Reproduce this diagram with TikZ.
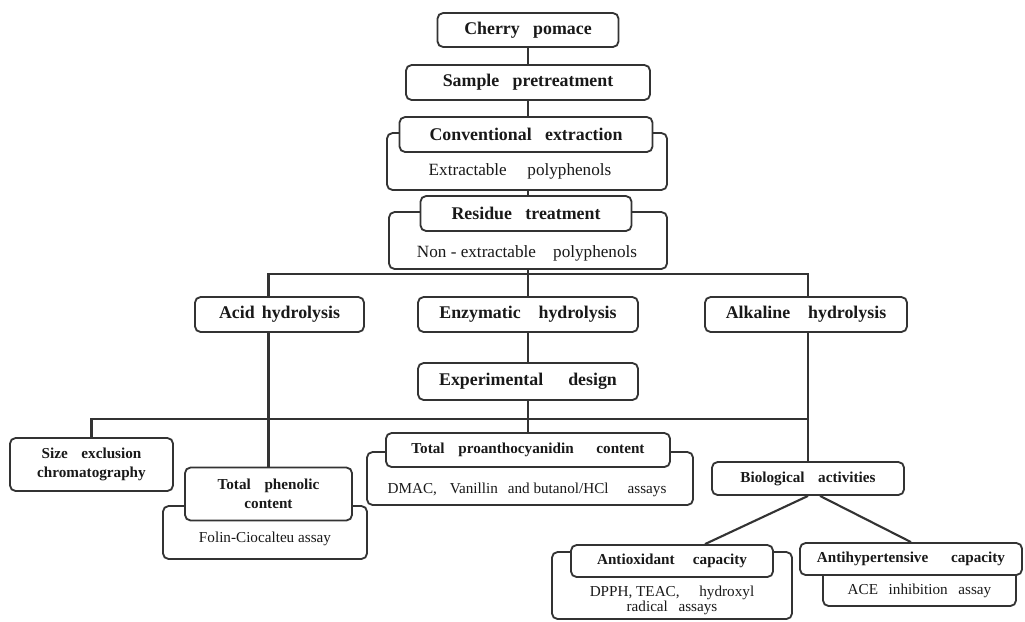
\documentclass[tikz,border=0pt]{standalone}
\usepackage{fontspec}
\setmainfont{Liberation Serif}
\usetikzlibrary{positioning,backgrounds}

\newcommand{\widespace}[1]{\spaceskip #1\relax}

\tikzset{
  box/.style={draw=black!80, line width=1.3pt, rounded corners=4pt, fill=white,
              align=center, inner sep=0pt, text=black!90},
  head/.style={box, font={\bfseries\fontsize{12.7}{14}\selectfont\widespace{0.75em}}},
  subhead/.style={box, font={\bfseries\fontsize{10.8}{13.8}\selectfont\widespace{0.9em}}},
  note/.style={align=center, inner sep=0pt, text=black!90, font=\fontsize{12.2}{14}\selectfont},
  subnote/.style={note, font=\fontsize{10.8}{10.8}\selectfont},
  wire/.style={draw=black!80, line width=1.5pt}
}

\begin{document}
\begin{tikzpicture}[x=0.025cm, y=-0.025cm]
\useasboundingbox (0,0) rectangle (1025,621);

% EXTRACTION
\node(pomace)[head, minimum width=4.525cm, minimum height=0.85cm] at (528,30) {Cherry pomace};
\node(pretreat)[head, minimum width=6.1cm, minimum height=0.875cm] at (528,82.5) {Sample pretreatment};

\node(convbox)[box, minimum width=7cm, minimum height=1.425cm] at (527,161.5) {};
\node(convnote)[note] at (520,171) {Extractable\hspace{1.2em}polyphenols};
\node(convtitle)[head, minimum width=6.325cm, minimum height=0.875cm] at (526,134.5) {Conventional extraction};

\node(resbox)[box, minimum width=6.95cm, minimum height=1.425cm] at (528,240.5) {};
\node(resnote)[note] at (527,253) {Non - extractable\hspace{1em}polyphenols};
\node(restitle)[head, minimum width=5.275cm, minimum height=0.875cm] at (526,213.5) {Residue treatment};

% HYDROLYSIS
\node(acid)[head, minimum width=4.225cm, minimum height=0.875cm] at (279.5,314.5) {Acid\hspace{0.4em}hydrolysis};
\node(enzym)[head, minimum width=5.5cm, minimum height=0.875cm] at (528,314.5) {Enzymatic\hspace{1em}hydrolysis};
\node(alkal)[head, minimum width=5.05cm, minimum height=0.875cm] at (806,314.5) {Alkaline\hspace{1em}hydrolysis};
\node(design)[head, minimum width=5.5cm, minimum height=0.925cm] at (528,381.5) {Experimental\hspace{1.4em}design};

% ANALYSES
\node(sizebox)[subhead, minimum width=4.075cm, minimum height=1.325cm] at (91.5,464.5)
  {Size exclusion\\chromatography};

\node(phenbox)[box, minimum width=5.1cm, minimum height=1.325cm] at (265,532.5) {};
\node(phennote)[subnote] at (265,539) {Folin-Ciocalteu assay};
\node(phentitle)[subhead, minimum width=4.175cm, minimum height=1.325cm] at (268.5,494)
  {Total phenolic\\content};

\node(tpabox)[box, minimum width=8.15cm, minimum height=1.325cm] at (530,478.5) {};
\node(tpanote)[subnote] at (527,490)
  {DMAC,\hspace{0.6em} Vanillin\hspace{0.4em} and butanol/HCl\hspace{1em} assays};
\node(tpatitle)[subhead, minimum width=7.1cm, minimum height=0.85cm] at (528,450)
  {Total proanthocyanidin\hspace{1.5em}content};

\node(bio)[subhead, minimum width=4.8cm, minimum height=0.825cm] at (808,478.5) {Biological activities};

% ACTIVITIES
\node(antioxbox)[box, minimum width=6cm, minimum height=1.675cm] at (672,585.5) {};
\node(antioxnote)[subnote] at (672,600) {DPPH, TEAC,\hspace{1.3em}hydroxyl\\radical\hspace{0.7em}assays};
\node(antiox)[subhead, minimum width=5.05cm, minimum height=0.8cm] at (672,561) {Antioxidant\hspace{1.2em}capacity};

\node(antihypbox)[box, minimum width=4.825cm, minimum height=1.15cm] at (919.5,583) {};
\node(antihypnote)[subnote] at (919.5,591) {ACE\hspace{0.7em}inhibition\hspace{0.7em}assay};
\node(antihyp)[subhead, minimum width=5.55cm, minimum height=0.8cm] at (911,559) {Antihypertensive\hspace{1.5em}capacity};

\coordinate (hubA) at (528,274);
\coordinate (hubB) at (808,419);

% CONNECTORS
\begin{scope}[on background layer]
\draw[wire] (pomace) -- (pretreat);
\draw[wire] (pretreat.south) -- (convtitle.north -| pretreat.south);
\draw[wire] (convbox.south -| resbox.south) -- (restitle.north -| resbox.south);
\draw[wire] (resbox.south) -- (tpatitle.north);
\draw[wire] (phentitle.north) |- (hubA) -| (bio.north);
\draw[wire] (sizebox.north) |- (hubB);
\draw[wire] (bio.south) -- ([xshift=0.825cm]antiox.north);
\draw[wire] ([xshift=0.3cm]bio.south) -- (antihyp.north);
\end{scope}

\end{tikzpicture}
\end{document}
